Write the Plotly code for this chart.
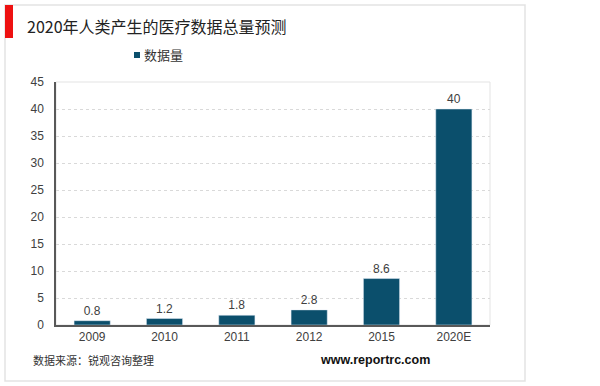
import plotly.graph_objects as go

categories = ["2009", "2010", "2011", "2012", "2015", "2020E"]
values = [0.8, 1.2, 1.8, 2.8, 8.6, 40]
series_name = "数据量"
title_text = "2020年人类产生的医疗数据总量预测"
source_text = "数据来源：锐观咨询整理"
site_text = "www.reportrc.com"

BAR = "#0B4F6C"
CJK = "Noto Sans CJK SC"
LAT = "Liberation Sans"

W, H = 600, 386
L, R, T, B = 56, 110, 82, 61
pw, ph = W - L - R, H - T - B

def px(x):
    return (x - L) / pw

def py(y):
    return (H - B - y) / ph

fig = go.Figure(go.Bar(
    x=categories, y=values, name=series_name,
    marker_color=BAR, width=0.5,
    text=[f"{v:g}" for v in values], textposition="outside",
    textfont=dict(family=LAT, size=12, color="#404040"),
    cliponaxis=False, showlegend=False,
))

fig.update_layout(
    width=W, height=H,
    margin=dict(l=L, r=R, t=T, b=B),
    paper_bgcolor="white", plot_bgcolor="white",
    font=dict(family=LAT, size=12, color="#404040"),
    showlegend=False,
    xaxis=dict(showline=True, linecolor="#595959", linewidth=1.5, ticks="",
               tickfont=dict(family=LAT, size=12, color="#404040"), showgrid=False),
    yaxis=dict(range=[0, 45], dtick=5, showline=True, linecolor="#595959", linewidth=1.5,
               showgrid=True, gridcolor="#d9d9d9", griddash="3px,3px", gridwidth=1,
               zeroline=False, ticks="", ticklabelstandoff=8,
               tickfont=dict(family=LAT, size=12, color="#404040")),
    shapes=[
        dict(type="rect", xref="paper", yref="paper", x0=px(5), x1=px(525), y0=py(381), y1=py(5),
             line=dict(color="#e3e3e3", width=1.5), layer="below"),
        dict(type="rect", xref="paper", yref="paper", x0=0, x1=1, y0=0, y1=1,
             line=dict(color="#e3e3e3", width=1), layer="below"),
        dict(type="rect", xref="paper", yref="paper", x0=px(5), x1=px(13), y0=py(38), y1=py(5),
             fillcolor="#ee1111", line=dict(width=0)),
        dict(type="rect", xref="paper", yref="paper", x0=px(134), x1=px(140), y0=py(58), y1=py(52),
             fillcolor=BAR, line=dict(width=0)),
    ],
    annotations=[
        dict(text=title_text, xref="paper", yref="paper", x=px(25), y=py(26),
             xanchor="left", yanchor="middle", showarrow=False,
             font=dict(family=CJK, size=16, color="#222222")),
        dict(text=series_name, xref="paper", yref="paper", x=px(142), y=py(55),
             xanchor="left", yanchor="middle", showarrow=False,
             font=dict(family=CJK, size=13, color="#333333")),
        dict(text=source_text, xref="paper", yref="paper", x=px(31), y=py(360),
             xanchor="left", yanchor="middle", showarrow=False,
             font=dict(family=CJK, size=11, color="#333333")),
        dict(text="<b>" + site_text + "</b>", xref="paper", yref="paper", x=px(375), y=py(360),
             xanchor="center", yanchor="middle", showarrow=False,
             font=dict(family=LAT, size=12.5, color="#111111")),
    ],
)

fig.write_html("out.html", config={"displayModeBar": False},
               post_script="document.body.style.margin='0';")
